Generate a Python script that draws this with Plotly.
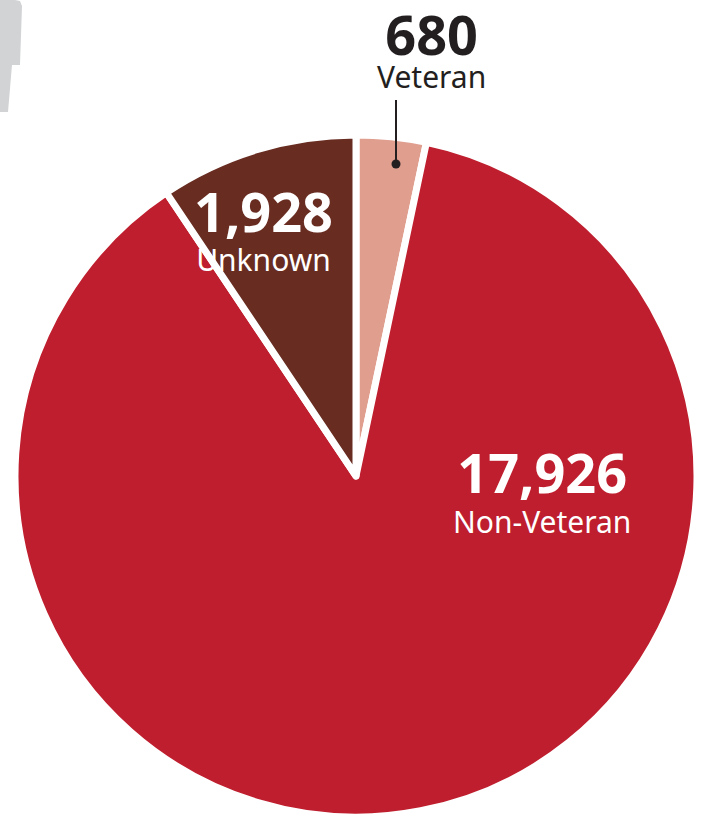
import plotly.graph_objects as go

W, H = 702, 817

categories = ["Veteran", "Non-Veteran", "Unknown"]
values = [680, 17926, 1928]
value_labels = ["680", "17,926", "1,928"]
colors = ["#E09E8F", "#BE1E2D", "#682C21"]


def px(x):
    return x / W


def py(y):
    return 1 - y / H


cx, cy, r = 356, 476, 341

fig = go.Figure()
fig.add_trace(go.Pie(
    labels=categories,
    values=values,
    sort=False,
    direction="clockwise",
    rotation=0,
    marker=dict(colors=colors, line=dict(color="white", width=7)),
    textinfo="none",
    hoverinfo="label+value",
    showlegend=False,
    domain=dict(x=[px(cx - r), px(cx + r)], y=[py(cy + r), py(cy - r)]),
))

# label layout: (x, y of block middle, base line-size, color)
label_pos = [
    (431, 47, 25.4, "#231F20"),
    (542, 488, 30.5, "white"),
    (263, 227, 30, "white"),
]
for i, (x, y, base, col) in enumerate(label_pos):
    txt = ("<span style='font-size:54px'><b>%s</b></span><br>"
           "<span style='font-size:30px'>%s</span>") % (value_labels[i], categories[i])
    fig.add_annotation(x=px(x), y=py(y), xref="paper", yref="paper",
                       text=txt, showarrow=False, align="center",
                       xanchor="center", yanchor="middle", borderpad=0,
                       font=dict(family="Noto Sans", size=base, color=col))

# leader line and dot for Veteran
fig.add_shape(type="line", xref="paper", yref="paper",
              x0=px(396), y0=py(100), x1=px(396), y1=py(163),
              line=dict(color="#231F20", width=2))
fig.add_shape(type="circle", xref="paper", yref="paper",
              x0=px(391.5), y0=py(159.5), x1=px(400.5), y1=py(168.5),
              fillcolor="#231F20", line=dict(width=0))

# grey decorative shape at top-left
pts = [(0, 0), (15, 0), (20, 1), (22, 6), (20, 65), (12, 65), (8, 112), (0, 112)]
path = "M " + " L ".join("%.5f,%.5f" % (px(a), py(b)) for a, b in pts) + " Z"
fig.add_shape(type="path", xref="paper", yref="paper", path=path,
              fillcolor="#D1D3D4", line=dict(width=0))

fig.update_layout(
    width=W, height=H,
    margin=dict(l=0, r=0, t=0, b=0),
    paper_bgcolor="white",
    plot_bgcolor="white",
)

fig.write_html(
    "out.html",
    config={"displayModeBar": False},
    post_script="document.body.style.margin='0';document.body.style.overflow='hidden';",
)
